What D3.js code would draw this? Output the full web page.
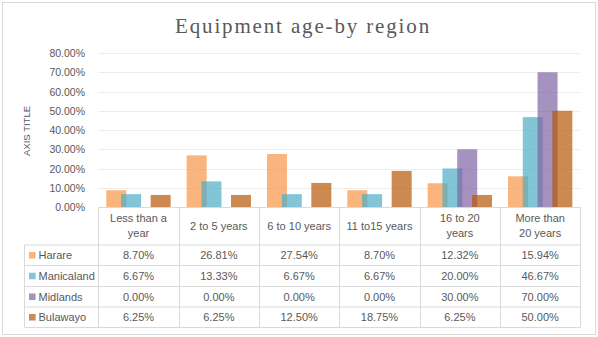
<!DOCTYPE html>
<html>
<head>
<meta charset="utf-8">
<script src="https://cdn.jsdelivr.net/npm/d3@7"></script>
<style>
  html, body { margin: 0; padding: 0; background: #fff; }
  svg { display: block; }
  text { font-family: "Liberation Sans", Arial, sans-serif; fill: #595959; }
</style>
</head>
<body>
<svg id="chart" width="598" height="337"></svg>
<script>
// Age bands (line breaks mark the wrapped header text)
const categories = ["Less than a\nyear", "2 to 5 years", "6 to 10 years", "11 to15 years", "16 to 20\nyears", "More than\n20 years"];
const seriesNames = ["Harare", "Manicaland", "Midlands", "Bulawayo"];
const harare     = [0.0870, 0.2681, 0.2754, 0.0870, 0.1232, 0.1594];
const manicaland = [0.0667, 0.1333, 0.0667, 0.0667, 0.2000, 0.4667];
const midlands   = [0.0000, 0.0000, 0.0000, 0.0000, 0.3000, 0.7000];
const bulawayo   = [0.0625, 0.0625, 0.1250, 0.1875, 0.0625, 0.5000];
const seriesColors = ["#F79646", "#4BACC6", "#8064A2", "#B65708"];
const yTicks = [0, 0.1, 0.2, 0.3, 0.4, 0.5, 0.6, 0.7, 0.8];

const series = [harare, manicaland, midlands, bulawayo].map((vals, i) => ({
  name: seriesNames[i], color: seriesColors[i], values: vals
}));

const svg = d3.select("#chart");
const fmt = d3.format(".2%");
const border = "#D9D9D9";

// Outer frame
svg.append("rect").attr("x", 2.5).attr("y", 2.5).attr("width", 593).attr("height", 332)
  .attr("fill", "#fff").attr("stroke", border).attr("stroke-width", 1);

// Title
svg.append("text").attr("x", 303).attr("y", 32.5).attr("text-anchor", "middle")
  .style("font-family", "'Liberation Serif', 'DejaVu Serif', serif")
  .style("font-size", "21px").style("letter-spacing", "1.85px")
  .text("Equipment age-by region");

// Scales
const x = d3.scaleBand().domain(categories).range([98.33, 580.33]).paddingInner(0).paddingOuter(0);
const y = d3.scaleLinear().domain([0, 0.8]).range([207, 53]);
const bw = x.bandwidth();
const barW = bw * 0.249;
const step = bw * 0.184;
const off = (bw - (barW + 3 * step)) / 2;
const xs = d3.scaleLinear().domain([0, 3]).range([off, off + 3 * step]);

// Gridlines
svg.append("g").selectAll("line").data(yTicks.slice(1)).join("line")
  .attr("x1", 98.33).attr("x2", 580.33)
  .attr("y1", d => Math.round(y(d)) + 0.5).attr("y2", d => Math.round(y(d)) + 0.5)
  .attr("stroke", "#EDEDED").attr("stroke-width", 1);

// Y axis labels
const yAxis = d3.axisLeft(y).tickValues(yTicks).tickFormat(fmt).tickSize(0).tickPadding(0);
const gy = svg.append("g").attr("transform", "translate(85,0)").call(yAxis);
gy.select(".domain").remove();
gy.selectAll("text").style("font-family", "'Liberation Sans', Arial, sans-serif")
  .style("font-size", "10.5px").attr("fill", "#595959").attr("dy", "0.35em");

// Axis title
svg.append("text").attr("transform", "translate(29.5,131) rotate(-90)")
  .attr("text-anchor", "middle").style("font-size", "9.5px").text("AXIS TITLE");

// Bars
series.forEach((s, si) => {
  svg.append("g").selectAll("rect").data(s.values.map((v, ci) => ({ v, c: categories[ci] }))).join("rect")
    .attr("x", d => x(d.c) + xs(si))
    .attr("width", barW)
    .attr("y", d => y(d.v))
    .attr("height", d => y(0) - y(d.v))
    .attr("fill", s.color)
    .attr("fill-opacity", 0.7);
});

// Data table
const rowTops = [245, 265.5, 286.5, 307, 327.5];
const tableLeft = 24.5;
const lines = svg.append("g").attr("stroke", border).attr("stroke-width", 1);
// horizontal axis line / header top
lines.append("line").attr("x1", 98.33).attr("x2", 580.33).attr("y1", 207.5).attr("y2", 207.5);
// header verticals
const bounds = categories.map(c => x(c)).concat([x.range()[1]]);
bounds.forEach(b => {
  const bx = Math.round(b) + 0.5;
  lines.append("line").attr("x1", bx).attr("x2", bx).attr("y1", 207.5).attr("y2", rowTops[rowTops.length - 1]);
});
// body horizontals
rowTops.forEach(t => {
  lines.append("line").attr("x1", tableLeft).attr("x2", 580.33).attr("y1", t).attr("y2", t);
});
// left edge of label column
lines.append("line").attr("x1", tableLeft).attr("x2", tableLeft).attr("y1", rowTops[0]).attr("y2", rowTops[rowTops.length - 1]);

// Header text
categories.forEach(c => {
  const parts = c.split("\n");
  const cx = x(c) + bw / 2;
  const t = svg.append("text").attr("x", cx).attr("text-anchor", "middle").style("font-size", "11px");
  const startY = parts.length === 1 ? 226 : 218.5;
  parts.forEach((p, i) => {
    t.append("tspan").attr("x", cx).attr("y", startY + i * 15).attr("dy", "0.35em").text(p);
  });
});

// Rows: legend key, name, values
series.forEach((s, si) => {
  const cy = (rowTops[si] + rowTops[si + 1]) / 2;
  svg.append("rect").attr("x", 29).attr("y", cy - 3.3).attr("width", 6.6).attr("height", 6.6)
    .attr("fill", s.color).attr("fill-opacity", 0.7);
  svg.append("text").attr("x", 38.5).attr("y", cy).attr("dy", "0.35em")
    .style("font-size", "11px").text(s.name);
  s.values.forEach((v, ci) => {
    svg.append("text").attr("x", x(categories[ci]) + bw / 2).attr("y", cy).attr("dy", "0.35em")
      .attr("text-anchor", "middle").style("font-size", "11px").text(fmt(v));
  });
});
</script>
</body>
</html>
